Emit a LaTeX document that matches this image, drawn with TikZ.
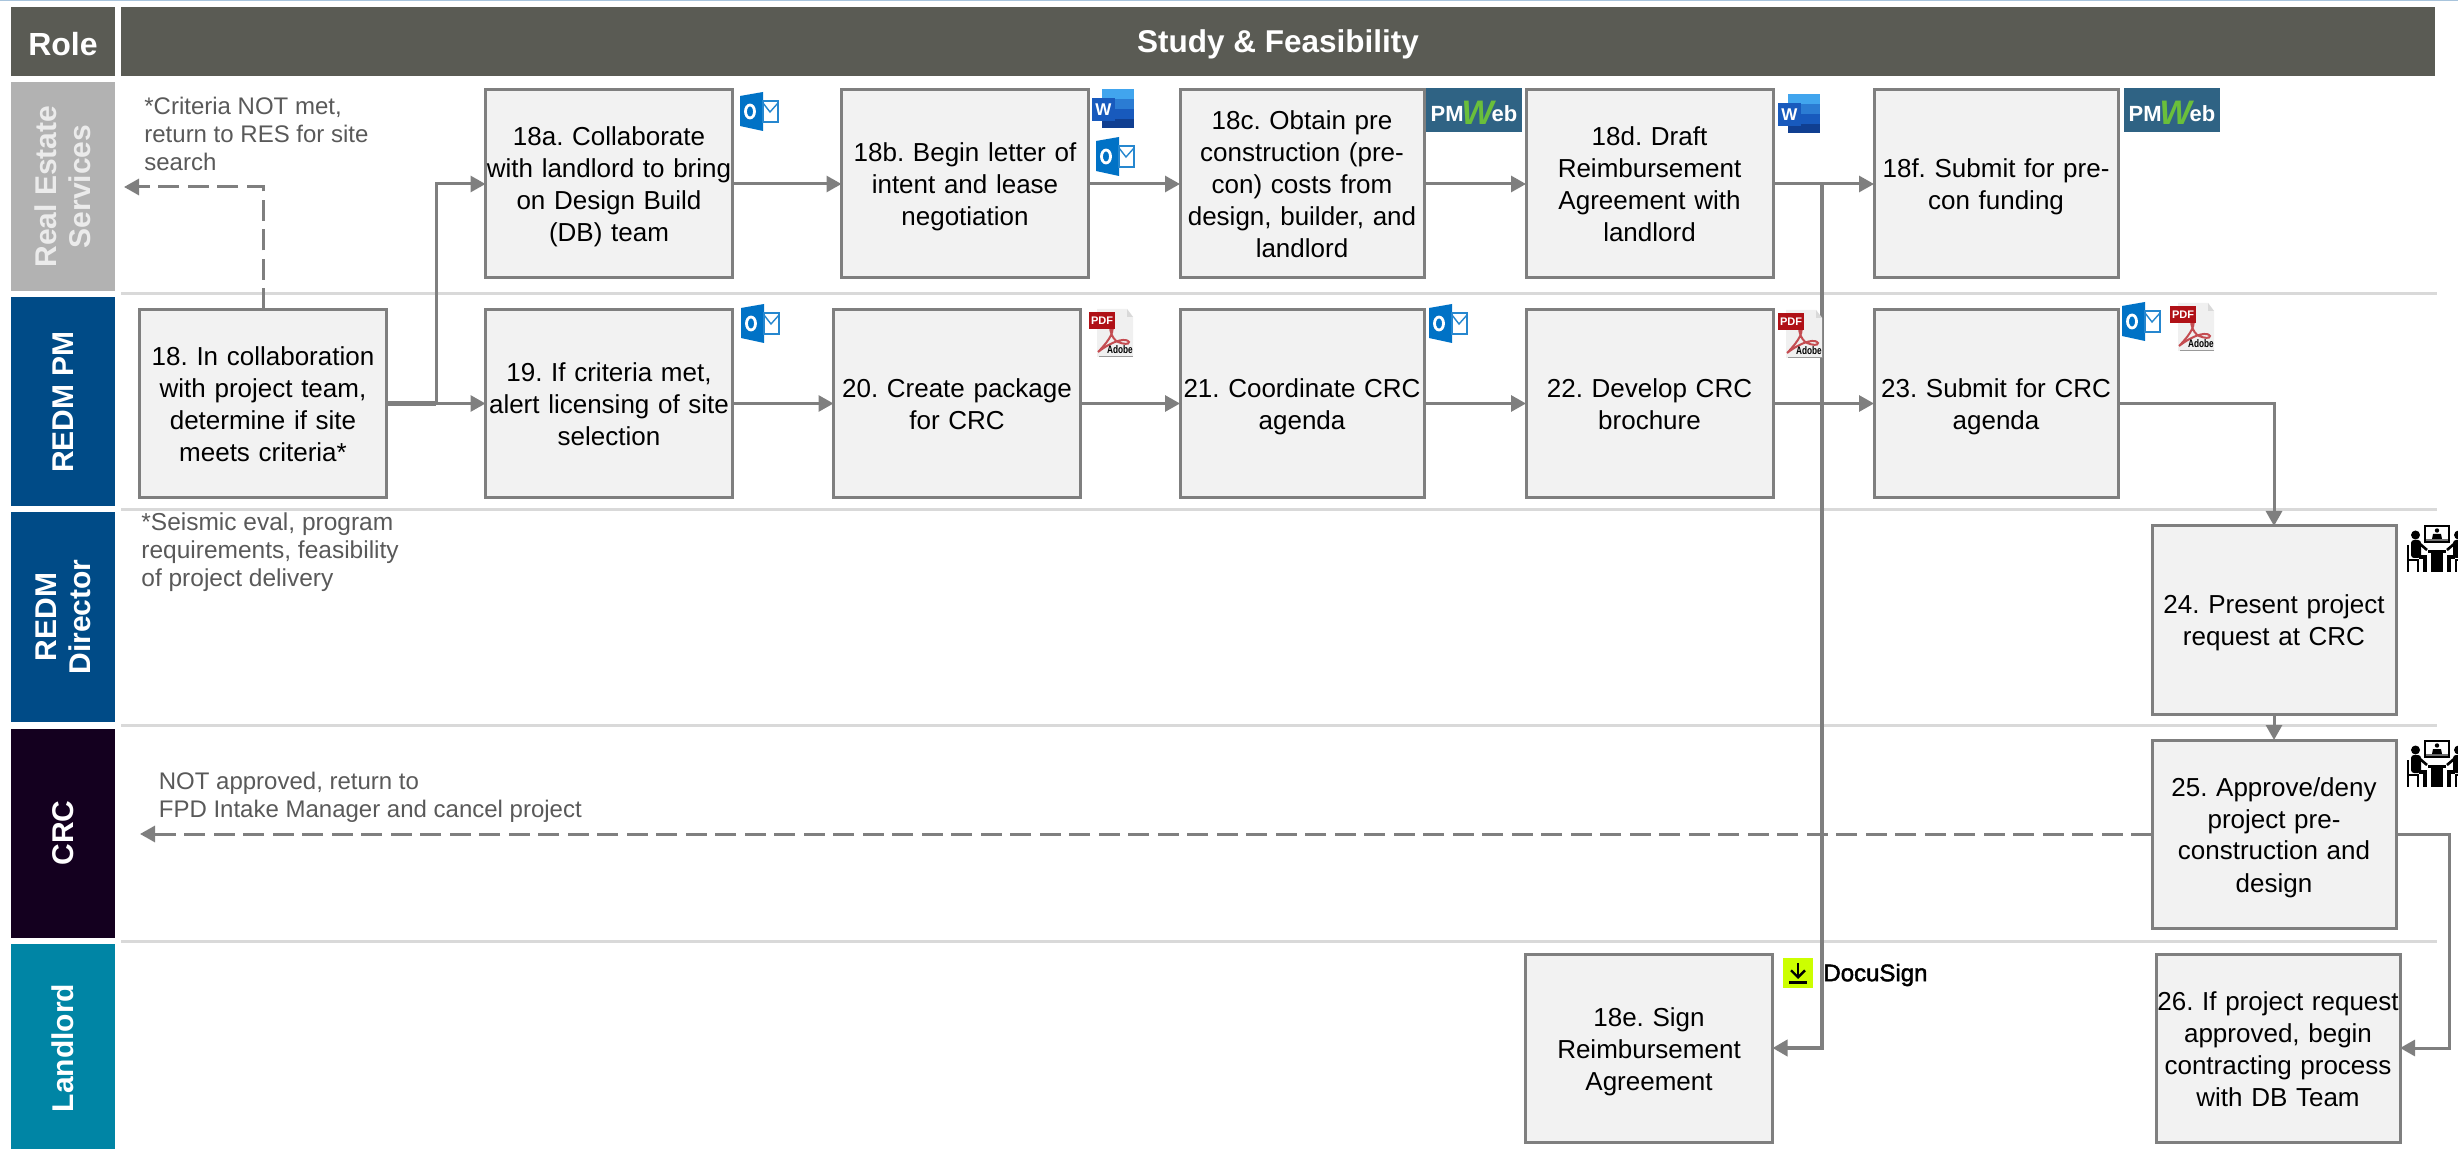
\documentclass[tikz,border=0pt]{standalone}
\usepackage{fontspec}
\setmainfont{Liberation Sans}
\newfontfamily\docufont[FakeBold=2]{Liberation Sans}
\frenchspacing
\usetikzlibrary{arrows.meta}
\definecolor{headgray}{HTML}{5A5B54}
\definecolor{resgray}{HTML}{B2B2B2}
\definecolor{pmblue}{HTML}{004B87}
\definecolor{crcpurple}{HTML}{14001F}
\definecolor{lordteal}{HTML}{0085A5}
\definecolor{boxfill}{HTML}{F2F2F2}
\definecolor{linegray}{HTML}{7F7F7F}
\definecolor{rulegray}{HTML}{D9D9D9}
\definecolor{notegray}{HTML}{595959}
\definecolor{topblue}{HTML}{A8C4DC}
\definecolor{olblue}{HTML}{0072C6}
\definecolor{wordA}{HTML}{41A5EE}
\definecolor{wordB}{HTML}{2B7CD3}
\definecolor{wordC}{HTML}{185ABD}
\definecolor{wordD}{HTML}{103F91}
\definecolor{pmwebblue}{HTML}{2F6384}
\definecolor{pmwebgreen}{HTML}{6ABF3B}
\definecolor{pdfred}{HTML}{B01117}
\definecolor{docuyellow}{HTML}{CCFF00}
\tikzset{
  stepbox/.style={draw=linegray,fill=boxfill,line width=1.5pt,minimum height=94pt,align=center,inner sep=0pt,outer sep=0pt,execute at begin node={\rule{0pt}{13.5pt}},execute at end node={\rule[-3.5pt]{0pt}{3.5pt}},font=\fontsize{13}{16}\selectfont},
  stepA/.style={stepbox,minimum width=123.5pt,text width=123.5pt},
  stepB/.style={stepbox,minimum width=122pt,text width=122pt},
  lane/.style={rotate=90,minimum height=52pt,minimum width=104.5pt,inner sep=0pt,outer sep=0pt,align=center,text=white,font=\fontsize{15}{17}\selectfont\bfseries},
  head/.style={fill=headgray,minimum height=34.5pt,inner sep=0pt,outer sep=0pt,text=white,execute at begin node={\rule{0pt}{14.5pt}},font=\fontsize{15.75}{18}\selectfont\bfseries},
  note/.style={anchor=west,align=left,inner sep=0pt,text=notegray,font=\fontsize{12}{14}\selectfont},
  flow/.style={draw=linegray,line width=1.5pt,-{Triangle[length=7.5pt,width=8pt]}},
  back/.style={flow,dash pattern=on 10.5pt off 4.25pt},
  laneline/.style={draw=rulegray,line width=1.5pt},
  outlookicon/.pic={
    \fill[olblue] (0,4) -- (23,0) -- (23,39) -- (0,34) -- cycle;
    \draw[white,line width=1.4pt] (10,19.5) ellipse (4.5 and 6.5);
    \draw[olblue!85,fill=white,line width=.7pt] (23,9) rectangle (38,30);
    \draw[olblue!85,line width=.7pt] (23,11) -- (30,20) -- (38,11);
  },
  wordicon/.pic={
    \fill[wordA] (10,0) rectangle (42,10);
    \fill[wordB] (10,10) rectangle (42,20);
    \fill[wordC] (10,20) rectangle (42,30);
    \fill[wordD] (10,30) rectangle (42,39);
    \node[fill=wordC,text=white,minimum size=11.5pt,inner sep=0pt,font=\fontsize{8.5}{9}\selectfont\bfseries] (-w) at (11.5,20.5) {W};
  },
  pmwebicon/.pic={
    \fill[pmwebblue] (0,0) rectangle (96,44);
    \node[text=white,inner sep=0pt,font=\fontsize{11}{12}\selectfont\bfseries] (-pm) at (48,25) {PM\hspace{-1pt}\raisebox{-1.5pt}{\color{pmwebgreen}\fontsize{17}{18}\selectfont\itshape W}\hspace{-1pt}eb};
  },
  pdficon/.pic={
    \fill[white!94!black] (8,0) -- (38,0) -- (44,8) -- (44,48) -- (8,48) -- cycle;
    \fill[black!15] (38,0) -- (44,8) -- (38,8) -- cycle;
    \draw[black!40,line width=.5pt] (10,48) -- (44,48);
    \draw[pdfred!75,line width=1pt] (9,43) .. controls (16,36) and (26,24) .. (23,18) .. controls (19,15) and (22,30) .. (29,33) .. controls (34,35) and (40,36) .. (40,33) .. controls (38,29) and (26,30) .. (9,43);
    \fill[pdfred] (0,3) rectangle (26,20);
    \node[text=white,inner sep=0pt,font=\fontsize{5.5}{6}\selectfont\bfseries] (-pdf) at (13,11.5) {PDF};
    \node[anchor=east,inner sep=0pt,xscale=.75,font=\fontsize{5.5}{6}\selectfont\bfseries] (-adobe) at (44,41) {Adobe};
  },
  videoicon/.pic={
    \draw[black,fill=white,line width=1pt] (25,6) rectangle (49,22);
    \fill[black!55] (26,19) rectangle (48,21);
    \fill[black] (37,10.5) circle (2.2);
    \fill[black] (32,19) -- (33,14) -- (41,14) -- (42,19) -- cycle;
    \fill[black] (28,30) rectangle (46,33);
    \fill[black] (31,33) rectangle (43,52);
    \foreach \m in {1,-1} {
      \begin{scope}[shift={(37,0)},xscale=\m]
        \fill[black] (-21.5,15) circle (4.5);
        \fill[black,rounded corners=1.5pt] (-26,20) rectangle (-16,38);
        \draw[black,line width=1.3pt] (-17,24) -- (-10,30);
        \draw[black,line width=1.6pt] (-18,37) -- (-12,37) -- (-12,52);
        \draw[black,line width=1pt] (-29,25) -- (-29,52) (-29,40) -- (-19,40) -- (-19,52);
      \end{scope}
    }
  },
}
\begin{document}
\begin{tikzpicture}[x=0.5pt,y=-0.5pt]
  \useasboundingbox (0,0) rectangle (2458,1149);
  \draw[topblue,line width=.75pt] (0,0.7) -- (2458,0.7);

  \node[head,minimum width=52pt] (role) at (63,41.5) {\fontsize{16}{18}\selectfont Role};
  \node[head,minimum width=1157pt] (study) at (1278,41.5) {Study \& Feasibility};

  \node[lane,fill=resgray,text=white!92!black] (res) at (63,186.5) {Real Estate\\Services};
  \node[lane,fill=pmblue] (redmpm) at (63,402) {REDM PM};
  \node[lane,fill=pmblue] (director) at (63,617) {REDM\\Director};
  \node[lane,fill=crcpurple] (crc) at (63,833) {CRC};
  \node[lane,fill=lordteal] (landlord) at (63,1048) {Landlord};

  \draw[laneline] (121,294) -- (2437,294);
  \draw[laneline] (121,510) -- (2437,510);
  \draw[laneline] (121,725.5) -- (2437,725.5);
  \draw[laneline] (121,941) -- (2437,941);

  \node[note] (critnote) at (144,134) {*Criteria NOT met,\\return to RES for site\\search};
  \node[note,font=\fontsize{12.25}{14}\selectfont] (seisnote) at (141,552) {*Seismic eval, program\\requirements, feasibility\\of project delivery};
  \node[note] (cancelnote) at (158.5,797) {NOT approved, return to\\FPD Intake Manager and cancel project};

  \node[stepA] (s18) at (263,403.5) {18. In collaboration\\with project team,\\determine if site\\meets criteria*};
  \node[stepA] (s18a) at (609,184) {18a. Collaborate\\with landlord to bring\\on Design Build\\(DB) team};
  \node[stepA] (s18b) at (965,184) {18b. Begin letter of\\intent and lease\\negotiation};
  \node[stepB] (s18c) at (1302,184) {18c. Obtain pre\\construction (pre-\\con) costs from\\design, builder, and\\landlord};
  \node[stepA] (s18d) at (1649.5,184) {18d. Draft\\Reimbursement\\Agreement with\\landlord};
  \node[stepB] (s18f) at (1996,184) {18f. Submit for pre-\\con funding};
  \node[stepA] (s19) at (609,403.5) {19. If criteria met,\\alert licensing of site\\selection};
  \node[stepA] (s20) at (957,403.5) {20. Create package\\for CRC};
  \node[stepB] (s21) at (1302,403.5) {21. Coordinate CRC\\agenda};
  \node[stepA] (s22) at (1649.5,403.5) {22. Develop CRC\\brochure};
  \node[stepB] (s23) at (1996,403.5) {23. Submit for CRC\\agenda};
  \node[stepB] (s24) at (2274,620) {24. Present project\\request at CRC};
  \node[stepB] (s25) at (2274,834) {25. Approve/deny\\project pre-\\construction and\\design};
  \node[stepB] (s26) at (2278,1048) {26. If project request\\approved, begin\\contracting process\\with DB Team};
  \node[stepA] (s18e) at (1649,1048) {18e. Sign\\Reimbursement\\Agreement};

  \coordinate (split18) at (436,403.5);
  \coordinate (split18d) at (1822,184);
  \coordinate (bend25) at (2449,834);
  \coordinate (resend) at (124,187);
  \coordinate (crcend) at (140,834);

  \draw[flow,-,line width=2.2pt] (s18.east) -- (split18);
  \draw[flow] (split18) |- (s18a.west);
  \draw[flow] (split18) -- (s19.west);
  \draw[flow] (s18a.east) -- (s18b.west);
  \draw[flow] (s18b.east) -- (s18c.west);
  \draw[flow] (s18c.east) -- (s18d.west);
  \draw[flow] (s18d.east) -- (split18d) -- (s18f.west);
  \draw[flow,line width=2pt] (split18d) |- (s18e.east);
  \draw[flow] (s19.east) -- (s20.west);
  \draw[flow] (s20.east) -- (s21.west);
  \draw[flow] (s21.east) -- (s22.west);
  \draw[flow] (s22.east) -- (s23.west);
  \draw[flow] (s23.east) -| (s24.north);
  \draw[flow] (s24.south) -- (s25.north);
  \draw[flow] (s25.east) -- (bend25) |- (s26.east);
  \draw[back] (s18.north) |- (resend);
  \draw[back] (s25.west) -- (crcend);

  \pic at (740,92) {outlookicon};
  \pic at (741,304) {outlookicon};
  \pic (wordb) at (1092,89) {wordicon};
  \pic at (1096,137) {outlookicon};
  \pic (pmc) at (1426,88) {pmwebicon};
  \pic (wordd) at (1778,94) {wordicon};
  \pic (pmf) at (2124,88) {pmwebicon};
  \pic (pdfa) at (1089,309) {pdficon};
  \pic at (1429,304) {outlookicon};
  \pic (pdfb) at (1778,310) {pdficon};
  \pic at (2122,302) {outlookicon};
  \pic (pdfc) at (2170,303) {pdficon};
  \pic at (2400,520) {videoicon};
  \pic at (2400,735) {videoicon};

  \fill[docuyellow] (1783,958) rectangle (1813,988);
  \draw[black,line width=1.2pt,-{Straight Barb[length=3.5pt,width=7pt]}] (1798,963) -- (1798,979);
  \draw[black,line width=1.2pt] (1789,982.5) -- (1807,982.5);
  \node[anchor=west,inner sep=0pt,font=\fontsize{12}{13}\selectfont\docufont] (docusign) at (1823,975) {DocuSign};
\end{tikzpicture}
\end{document}
